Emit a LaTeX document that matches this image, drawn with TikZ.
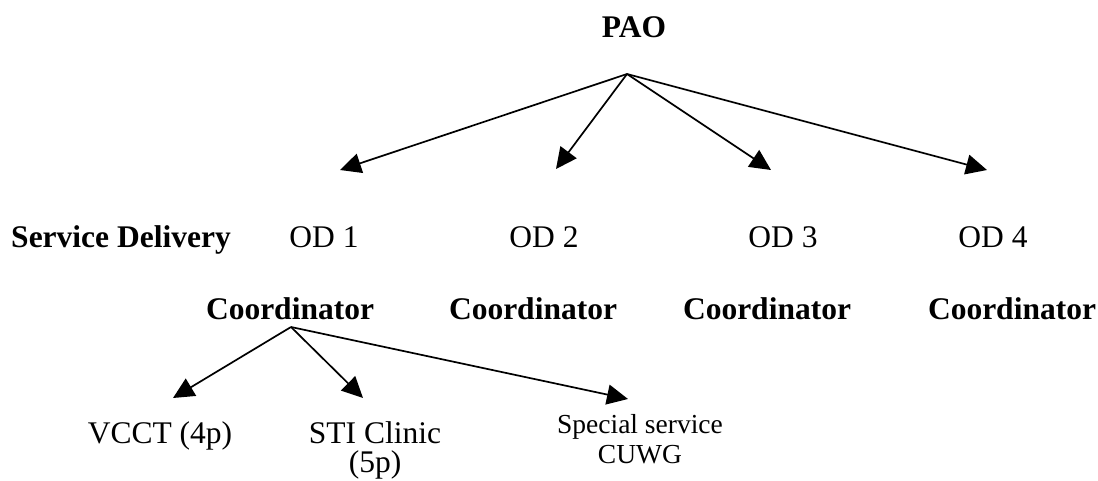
\documentclass[tikz,border=0pt]{standalone}
\usepackage{fontspec}
\setmainfont{Liberation Serif}
\usetikzlibrary{arrows.meta}
\begin{document}
\begin{tikzpicture}[x=1pt,y=-1pt,
  lbl/.style={inner sep=0pt, anchor=base, font=\fontsize{31.5}{29}\selectfont, align=center},
  blbl/.style={lbl, font=\fontsize{31.5}{29}\selectfont\bfseries},
  slbl/.style={lbl, font=\fontsize{27.5}{30}\selectfont},
  arr/.style={line width=1.7pt, -{Triangle[length=21pt,width=20pt]}}]
\useasboundingbox[fill=white] (0,0) rectangle (1098,480);
% texts
\node[blbl] (pao) at (634,37) {PAO};
\node[blbl] (sd) at (121,247) {Service Delivery};
\node[lbl] (od1) at (324,247) {OD 1};
\node[lbl] (od2) at (544,247) {OD 2};
\node[lbl] (od3) at (783,247) {OD 3};
\node[lbl] (od4) at (993,247) {OD 4};
\node[blbl] (c1) at (290,319) {Coordinator};
\node[blbl] (c2) at (533,319) {Coordinator};
\node[blbl] (c3) at (767,319) {Coordinator};
\node[blbl] (c4) at (1012,319) {Coordinator};
\node[lbl] (vcct) at (160,443) {VCCT (4p)};
\node[lbl] (sti) at (375,472) {STI Clinic\\(5p)};
\node[slbl] (spec) at (640,463) {Special service\\CUWG};
% connector ends
\coordinate (paoapex) at (627,74);
\coordinate (t1) at (340,170);
\coordinate (t2) at (556,169);
\coordinate (t3) at (771,170);
\coordinate (t4) at (987,170);
\coordinate (capex) at (291,327);
\coordinate (tv) at (173,398);
\coordinate (ts) at (363,398);
\coordinate (tc) at (628,399);
% connectors
\draw[arr] (paoapex) -- (t1);
\draw[arr] (paoapex) -- (t2);
\draw[arr] (paoapex) -- (t3);
\draw[arr] (paoapex) -- (t4);
\draw[arr] (capex) -- (tv);
\draw[arr] (capex) -- (ts);
\draw[arr] (capex) -- (tc);
\end{tikzpicture}
\end{document}
